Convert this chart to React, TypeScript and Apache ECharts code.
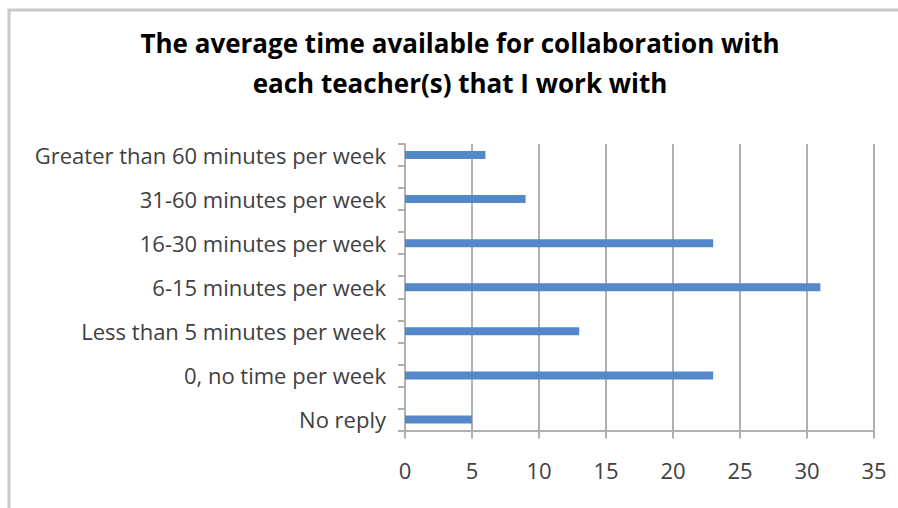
import React, { useEffect, useRef } from "react";
import * as echarts from "echarts";

const categories = [
  "Greater than 60 minutes per week",
  "31-60 minutes per week",
  "16-30 minutes per week",
  "6-15 minutes per week",
  "Less than 5 minutes per week",
  "0, no time per week",
  "No reply",
];
const values = [6, 9, 23, 31, 13, 23, 5];
const xMin = 0;
const xMax = 35;
const xStep = 5;
const titleLines = [
  "The average time available for collaboration with",
  "each teacher(s) that I work with",
];

const FONT = "'Open Sans', 'DejaVu Sans', sans-serif";

export default function App() {
  const ref = useRef<HTMLDivElement>(null);
  useEffect(() => {
    document.body.style.margin = "0";
    if (!ref.current) return;
    const chart = echarts.init(ref.current, undefined, { renderer: "svg" });
    // Blank spacer rows between categories (as in the source chart)
    const axisCats: string[] = [];
    const axisVals: (number | string)[] = [];
    categories.forEach((c, i) => {
      axisCats.push(c);
      axisVals.push(values[i]);
      if (i < categories.length - 1) {
        axisCats.push("");
        axisVals.push("-");
      }
    });
    chart.setOption({
      animation: false,
      backgroundColor: "#ffffff",
      graphic: [
        {
          type: "rect",
          shape: { x: 9, y: 10, width: 1000, height: 600 },
          style: { fill: "none", stroke: "#c9c9c9", lineWidth: 3 },
          silent: true,
        },
        {
          type: "text",
          x: 460,
          y: 63,
          style: {
            text: titleLines.join("\n"),
            textAlign: "center",
            textVerticalAlign: "middle",
            font: `bold 26px ${FONT}`,
            lineHeight: 40,
            fill: "#000000",
          },
        },
      ],
      grid: { left: 405, right: 24, top: 144, bottom: 77.5, containLabel: false },
      xAxis: {
        type: "value",
        min: xMin,
        max: xMax,
        interval: xStep,
        axisLine: { show: true, lineStyle: { color: "#b0b0b0", width: 2 } },
        axisTick: { show: true, length: 8, lineStyle: { color: "#b0b0b0", width: 2 } },
        splitLine: { show: true, lineStyle: { color: "#b0b0b0", width: 2 } },
        axisLabel: { color: "#404040", fontSize: 22, fontFamily: FONT, margin: 28 },
      },
      yAxis: {
        type: "category",
        inverse: true,
        data: axisCats,
        axisLine: { show: true, lineStyle: { color: "#b0b0b0", width: 2 } },
        axisTick: { show: true, length: 7, interval: 0, lineStyle: { color: "#b0b0b0", width: 2 } },
        axisLabel: { interval: 0, color: "#404040", fontSize: 22, fontFamily: FONT, margin: 19 },
        splitLine: { show: false },
      },
      series: [
        {
          type: "bar",
          data: axisVals,
          barWidth: 8,
          itemStyle: { color: "#5588c8" },
        },
      ],
    });
    return () => chart.dispose();
  }, []);
  return <div ref={ref} style={{ width: 898, height: 508 }} />;
}
